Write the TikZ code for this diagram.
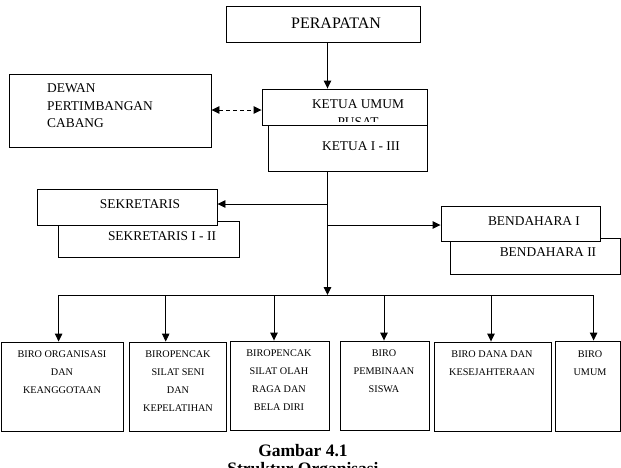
\documentclass[tikz,border=0pt]{standalone}
\usepackage{fontspec}
\setmainfont{Liberation Serif}
\usetikzlibrary{arrows.meta}
\begin{document}
\begin{tikzpicture}[x=1pt,y=-1pt,
  box/.style={draw,line width=0.9pt,fill=white,inner sep=0pt,rectangle},
  t16/.style={inner sep=0pt,font=\fontsize{16}{20}\selectfont},
  t13/.style={inner sep=0pt,font=\fontsize{13.4}{17.5}\selectfont},
  t10/.style={inner sep=0pt,align=center,font=\fontsize{10.2}{18}\selectfont},
  captext/.style={inner sep=0pt,font=\fontsize{17.5}{20}\selectfont\bfseries},
  arr/.style={line width=0.9pt,-{Triangle[length=8pt,width=7.5pt]}},
  ln/.style={line width=0.9pt}]
\useasboundingbox (0,0) rectangle (621,467);
% top
\node[box,minimum width=194pt,minimum height=36pt] (per) at (323,24) {};
\node[t16] (perT) at (336,23) {PERAPATAN};
\node[box,minimum width=202pt,minimum height=73pt] (dew) at (110,110.5) {};
\node[t13,align=left,anchor=west] (dewT) at (47,106) {DEWAN\\PERTIMBANGAN\\CABANG};
\node[box,minimum width=165pt,minimum height=36pt] (ku) at (344.5,107) {};
\node[t13] (kuT) at (358,104) {KETUA UMUM};
\begin{scope}
\clip (300,110) rectangle (420,121);
\node[t13] (kuP) at (358,122) {PUSAT};
\end{scope}
\node[box,minimum width=159pt,minimum height=46pt] (k13) at (347.5,148) {};
\node[t13] (k13T) at (361,146) {KETUA I - III};
% sekretaris
\node[box,minimum width=181pt,minimum height=36pt] (sek2) at (148.5,239) {};
\node[box,minimum width=180pt,minimum height=36pt] (sek) at (127,207) {};
\node[t13] (sekT) at (140,204) {SEKRETARIS};
\node[t13] (sek2T) at (162,236) {SEKRETARIS I - II};
% bendahara
\node[box,minimum width=170pt,minimum height=36pt] (ben2) at (535,256) {};
\node[box,minimum width=159pt,minimum height=35pt] (ben1) at (520.5,223.5) {};
\node[t13] (ben1T) at (534,221) {BENDAHARA I};
\node[t13] (ben2T) at (548,252) {BENDAHARA II};
% biro boxes
\node[box,minimum width=122pt,minimum height=89pt] (b1) at (62,386.5) {};
\node[box,minimum width=96.5pt,minimum height=89pt] (b2) at (177.75,386.5) {};
\node[box,minimum width=99pt,minimum height=89pt] (b3) at (279.5,385.5) {};
\node[box,minimum width=89pt,minimum height=89pt] (b4) at (384.5,385.5) {};
\node[box,minimum width=117pt,minimum height=89pt] (b5) at (492.5,386.5) {};
\node[box,minimum width=65pt,minimum height=90pt] (b6) at (587.5,386) {};
\node[t10] (b1T) at (62,372) {BIRO ORGANISASI\\DAN\\KEANGGOTAAN};
\node[t10] (b2T) at (178,381) {BIROPENCAK\\SILAT SENI\\DAN\\KEPELATIHAN};
\node[t10] (b3T) at (279,380) {BIROPENCAK\\SILAT OLAH\\RAGA DAN\\BELA DIRI};
\node[t10] (b4T) at (384,371) {BIRO\\PEMBINAAN\\SISWA};
\node[t10] (b5T) at (492,363) {BIRO DANA DAN\\KESEJAHTERAAN};
\node[t10] (b6T) at (590,363.5) {BIRO\\UMUM};
% connectors
\coordinate (c0) at (327.5,0);
\coordinate (bus) at (327.5,295);
\coordinate (js) at (327.5,204);
\coordinate (jb) at (327.5,225);
\coordinate (dd) at (0,110);
\draw[arr] (c0 |- per.south) -- (c0 |- ku.north);
\draw[ln,dash pattern=on 4pt off 3pt,{Triangle[length=8pt,width=7.5pt]}-{Triangle[length=8pt,width=7.5pt]}] (dd -| dew.east) -- (dd -| ku.west);
\draw[arr] (c0 |- k13.south) -- (bus);
\draw[arr] (js) -- (js -| sek.east);
\draw[arr] (jb) -- (jb -| ben1.west);
\coordinate (a1) at (58.6,295);
\coordinate (a2) at (165.7,295);
\coordinate (a3) at (274,295);
\coordinate (a4) at (384,295);
\coordinate (a5) at (491,295);
\coordinate (a6) at (593.6,295);
\draw[ln] (a1) -- (a6);
\draw[arr] (a1) -- (a1 |- b1.north);
\draw[arr] (a2) -- (a2 |- b2.north);
\draw[arr] (a3) -- (a3 |- b3.north);
\draw[arr] (a4) -- (a4 |- b4.north);
\draw[arr] (a5) -- (a5 |- b5.north);
\draw[arr] (a6) -- (a6 |- b6.north);
% caption
\node[captext] (cap1) at (303,451) {Gambar 4.1};
\node[captext] (cap2) at (303,470) {Struktur Organisasi};
\end{tikzpicture}
\end{document}
